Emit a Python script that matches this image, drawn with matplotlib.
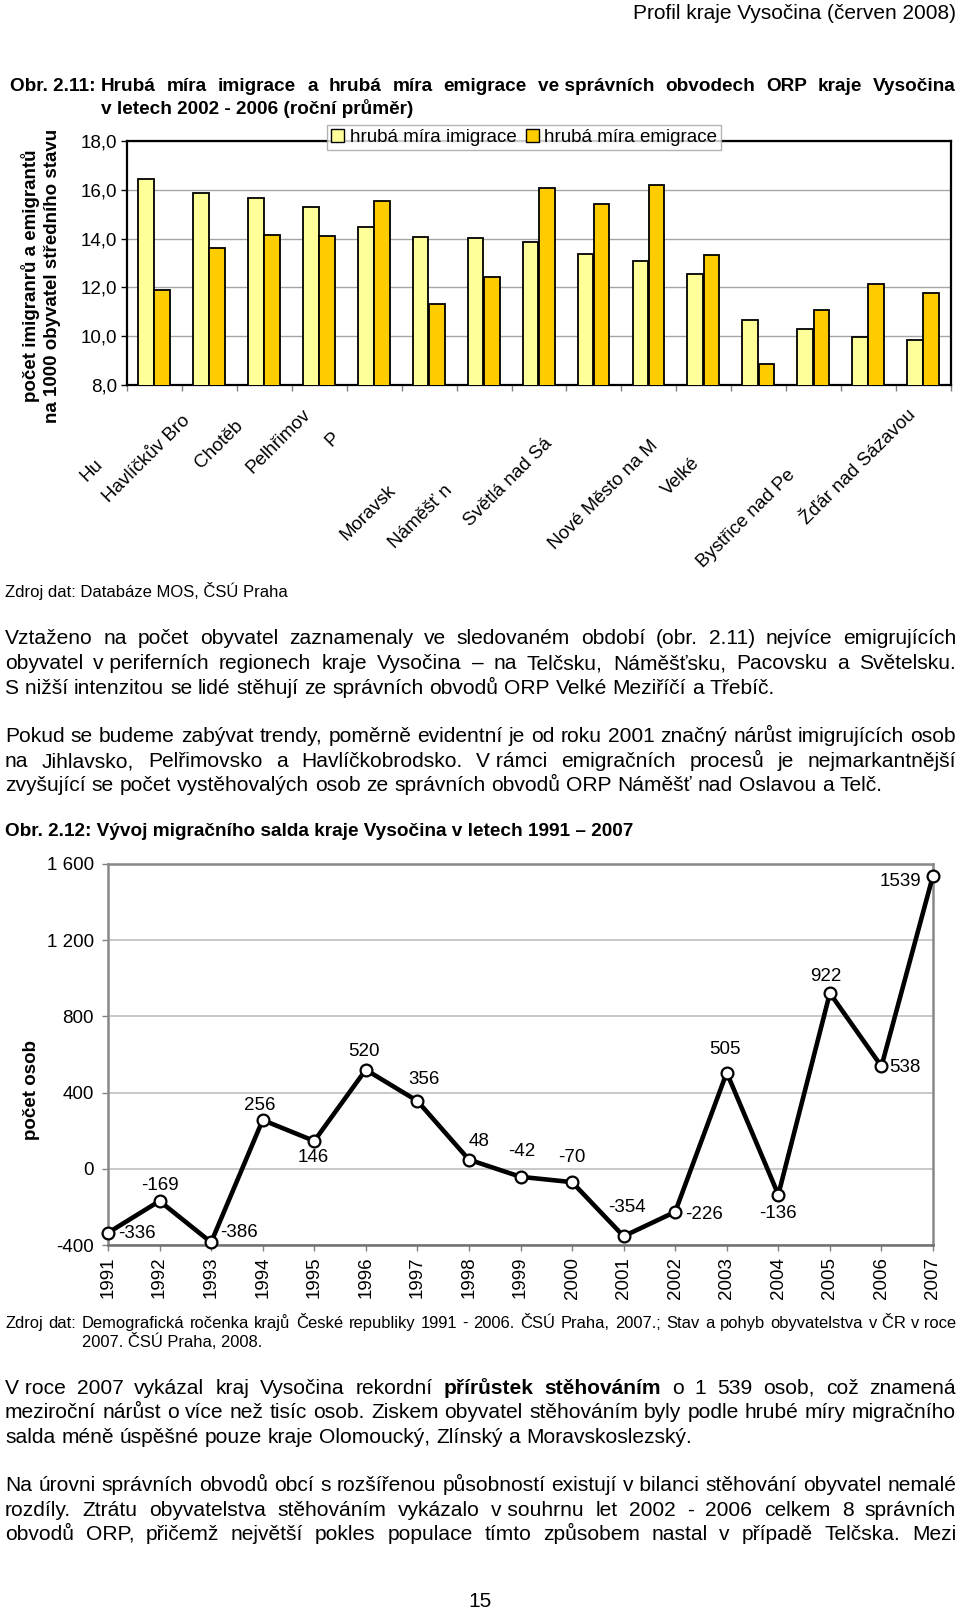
import matplotlib
matplotlib.use('Agg')
import matplotlib.pyplot as plt
import numpy as np
from matplotlib.patches import Patch

plt.rcParams['font.family'] = ['Liberation Sans', 'DejaVu Sans']

# ---------------- data ----------------
imigrace = [16.44, 15.88, 15.66, 15.30, 14.46, 14.08, 14.01, 13.86, 13.36, 13.07, 12.55, 10.65, 10.31, 9.95, 9.86]
emigrace = [11.91, 13.61, 14.15, 14.11, 15.54, 11.32, 12.41, 16.09, 15.42, 16.18, 13.34, 8.85, 11.09, 12.13, 11.76]
cat_labels = ['Hu', 'Havlíčkův Bro', 'Chotěb', 'Pelhřimov', 'P', 'Moravsk', 'Náměšť n',
              'Světlá nad Sá', 'Nové Město na M', 'Velké', 'Bystřice nad Pe', 'Žďár nad Sázavou']
series_names = ['hrubá míra imigrace', 'hrubá míra emigrace']
y1_ticks = [8, 10, 12, 14, 16, 18]

years = list(range(1991, 2008))
saldo = [-336, -169, -386, 256, 146, 520, 356, 48, -42, -70, -354, -226, 505, -136, 922, 538, 1539]
y2_ticks = [-400, 0, 400, 800, 1200, 1600]

# ---------------- layout helpers ----------------
W, H = 960, 1611
fig = plt.figure(figsize=(W / 100, H / 100), dpi=100)
fig.patch.set_facecolor('white')
renderer = fig.canvas.get_renderer()
CHART_FS = 13.5


def fx(x):
    return x / W


def fy(y):
    return 1 - y / H


def put(s, x, y, size, weight='normal', ha='left'):
    # y is the visual centre of the line; convert to baseline for stable alignment
    yb = round(y + 0.26 * size * 100 / 72 + 2)
    return fig.text(fx(x), fy(yb), s, fontsize=size, fontweight=weight, ha=ha, va='baseline')


def put_rot(s, x, y, size, weight='normal'):
    return fig.text(fx(x), fy(y), s, fontsize=size, fontweight=weight, ha='center', va='center',
                    rotation=90)


def width(s, size, weight='normal'):
    t = fig.text(0, 0, s, fontsize=size, fontweight=weight)
    w = t.get_window_extent(renderer).width
    t.remove()
    return w


def fit(s, target, weight='normal'):
    return 12 * target / width(s, 12, weight)


def justify(line, x0, x1, y, size, weight='normal', last=False):
    words = []
    for w in line.split(' '):
        b = w.startswith('*')
        w = w.lstrip('*').replace('~', ' ')
        words.append((w, 'bold' if (b or weight == 'bold') else 'normal'))
    widths = [width(w, size, wt) for w, wt in words]
    if last or len(words) == 1:
        gap = width('a a', size, weight) - width('aa', size, weight)
    else:
        gap = (x1 - x0 - sum(widths)) / (len(words) - 1)
    x = x0
    for (w, wt), wd in zip(words, widths):
        put(w, x, y, size, wt)
        x += wd + gap


# ---------------- page text ----------------
X0, X1 = 5, 956
fs_body = fit('S nižší intenzitou se lidé stěhují ze správních obvodů ORP Velké Meziříčí a Třebíč.', 768)
fs_title = fit('Obr. 2.12: Vývoj migračního salda kraje Vysočina v letech 1991 – 2007', 625, 'bold')
fs_head = fit('Profil kraje Vysočina (červen 2008)', 325)
fs_src1 = fit('Zdroj dat: Databáze MOS, ČSÚ Praha', 282)
fs_src2 = fit('2007. ČSÚ Praha, 2008.', 180)

put('Profil kraje Vysočina (červen 2008)', 956, 12, fs_head, ha='right')

put('Obr. 2.11:', 10, 84, fs_title, 'bold')
justify('Hrubá míra imigrace a hrubá míra emigrace ve~správních obvodech ORP kraje Vysočina',
        101, 956, 84, fs_title, 'bold')
put('v letech 2002 - 2006 (roční průměr)', 101, 107, fs_title, 'bold')

put('Zdroj dat: Databáze MOS, ČSÚ Praha', X0, 591, fs_src1)

p1 = ['Vztaženo na počet obyvatel zaznamenaly ve sledovaném období (obr. 2.11) nejvíce emigrujících',
      'obyvatel v~periferních regionech kraje Vysočina – na Telčsku, Náměšťsku, Pacovsku a Světelsku.',
      'S~nižší intenzitou se lidé stěhují ze správních obvodů ORP Velké Meziříčí a Třebíč.']
p2 = ['Pokud se budeme zabývat trendy, poměrně evidentní je od roku 2001 značný nárůst imigrujících osob',
      'na Jihlavsko, Pelřimovsko a Havlíčkobrodsko. V~rámci emigračních procesů je nejmarkantnější',
      'zvyšující se počet vystěhovalých osob ze správních obvodů ORP Náměšť nad Oslavou a Telč.']
p3 = ['V~roce 2007 vykázal kraj Vysočina rekordní *přírůstek *stěhováním o 1 539 osob, což znamená',
      'meziroční nárůst o více než tisíc osob. Ziskem obyvatel stěhováním byly podle hrubé míry migračního',
      'salda méně úspěšné pouze kraje Olomoucký, Zlínský a Moravskoslezský.']
p4 = ['Na úrovni správních obvodů obcí s rozšířenou působností existují v~bilanci stěhování obyvatel nemalé',
      'rozdíly. Ztrátu obyvatelstva stěhováním vykázalo v~souhrnu let 2002 - 2006 celkem 8 správních',
      'obvodů ORP, přičemž největší pokles populace tímto způsobem nastal v případě Telčska. Mezi']

for lines, ys, last_left in [(p1, [637, 662, 687], True), (p2, [735, 760, 784], True),
                             (p3, [1387, 1411, 1436], True), (p4, [1484, 1509, 1533], False)]:
    for i, (ln, yy) in enumerate(zip(lines, ys)):
        justify(ln, X0, X1, yy, fs_body, last=(last_left and i == len(lines) - 1))

put('Obr. 2.12: Vývoj migračního salda kraje Vysočina v letech 1991 – 2007', X0, 829, fs_title, 'bold')

justify('Zdroj dat: Demografická ročenka krajů České republiky 1991 - 2006. ČSÚ Praha, 2007.; '
        'Stav a pohyb obyvatelstva v~ČR v~roce', X0, X1, 1322, fs_src2)
put('2007. ČSÚ Praha, 2008.', 82, 1341, fs_src2)

put('15', 480, 1600, fs_head, ha='center')

# ---------------- chart 1: bars ----------------
ax1 = fig.add_axes([fx(127), fy(385), 824 / W, 244 / H])
x = np.arange(len(imigrace))
ax1.bar(x - 0.155, imigrace, 0.285, color='#FFFF99', edgecolor='black', linewidth=1.3, zorder=3)
ax1.bar(x + 0.14, emigrace, 0.285, color='#FFCC00', edgecolor='black', linewidth=1.3, zorder=3)
ax1.set_xlim(-0.5, len(imigrace) - 0.5)
ax1.set_ylim(8, 18)
ax1.set_yticks(y1_ticks)
ax1.set_yticklabels([f'{v:.1f}'.replace('.', ',') for v in y1_ticks], fontsize=CHART_FS)
ax1.yaxis.grid(True, color='#A6A6A6', lw=1)
ax1.set_axisbelow(True)
ax1.set_xticks(np.arange(-0.5, len(imigrace), 1))
ax1.set_xticklabels([])
ax1.tick_params(axis='x', length=4, color='#808080', width=1)
ax1.tick_params(axis='y', length=4, color='black', pad=3, width=1)
for sp in ax1.spines.values():
    sp.set_color('black')
    sp.set_linewidth(1.6)

label_x = [-0.99, 0.61, 1.56, 2.80, 3.32, 4.34, 5.38, 7.20, 9.11, 9.88, 11.62, 13.81]
label_y = [-0.316, -0.135, -0.156, -0.111, -0.205, -0.42, -0.42, -0.23, -0.238, -0.31, -0.357, -0.111]
for s, lx, ly in zip(cat_labels, label_x, label_y):
    ax1.text(lx, ly, s, transform=ax1.get_xaxis_transform(), rotation=45, rotation_mode='anchor',
             ha='right', va='center', fontsize=CHART_FS, clip_on=False)

leg = fig.legend(handles=[Patch(facecolor='#FFFF99', edgecolor='black', label=series_names[0]),
                          Patch(facecolor='#FFCC00', edgecolor='black', label=series_names[1])],
                 loc='upper left', bbox_to_anchor=(fx(327), fy(125)), ncol=2, fontsize=CHART_FS,
                 frameon=True, fancybox=False, edgecolor='#A0A0A0', borderpad=0.2,
                 handlelength=0.7, handleheight=0.7, handletextpad=0.3, columnspacing=0.5,
                 borderaxespad=0)
leg.get_frame().set_linewidth(1)
leg.set_zorder(10)

put_rot('počet imigranrů a emigrantů', 31, 276, CHART_FS, 'bold')
put_rot('na 1000 obyvatel středního stavu', 53, 276, CHART_FS, 'bold')

# ---------------- chart 2: line ----------------
ax2 = fig.add_axes([fx(108), fy(1245), 825 / W, 381 / H])
ax2.plot(years, saldo, '-', color='black', lw=3.3, marker='o', ms=8.5, mfc='white',
         mec='black', mew=1.6, clip_on=False, zorder=4)
ax2.set_xlim(1991, 2007)
ax2.set_ylim(-400, 1600)
ax2.set_yticks(y2_ticks)
ax2.set_yticklabels([f'{v:,}'.replace(',', ' ') for v in y2_ticks], fontsize=CHART_FS)
ax2.set_xticks(years)
ax2.set_xticklabels([str(y) for y in years], rotation=90, fontsize=CHART_FS)
ax2.yaxis.grid(True, color='#BFBFBF', lw=1.2)
ax2.set_axisbelow(True)
ax2.tick_params(axis='x', length=4, color='#808080', pad=4.5, width=1)
ax2.tick_params(axis='y', length=4, color='#808080', pad=6, width=1)
for sp in ax2.spines.values():
    sp.set_color('#888888')
    sp.set_linewidth(1.8)
ax2.spines['bottom'].set_color('#707070')

lab_off = [(10, -1, 'left'), (0, 15, 'center'), (9, 10, 'left'), (-3, 15, 'center'), (-1, -17, 'center'),
           (-2, 18, 'center'), (7, 21, 'center'), (10, 18, 'center'), (1, 25, 'center'), (0, 25, 'center'),
           (3, 29, 'center'), (10, -3, 'left'), (-2, 23, 'center'), (0, -19, 'center'), (-4, 17, 'center'),
           (8, -1, 'left'), (-12, -6, 'right')]
for yr, v, (dx, dy, ha) in zip(years, saldo, lab_off):
    ax2.annotate(str(v), (yr, v), xytext=(dx, dy), textcoords='offset pixels',
                 ha=ha, va='center', fontsize=CHART_FS, zorder=5, annotation_clip=False)

put_rot('počet osob', 32, 1090, CHART_FS, 'bold')

fig.savefig('out.png', dpi=100, facecolor='white')
